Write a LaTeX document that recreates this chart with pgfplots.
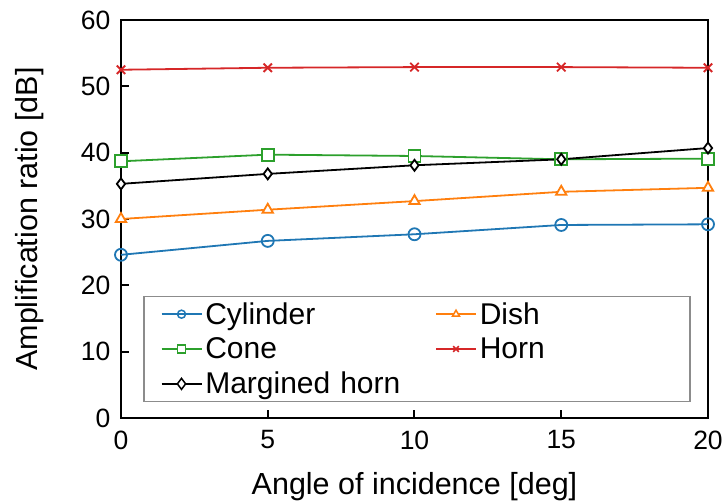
\documentclass[border=0pt]{standalone}
\usepackage{fontspec}
\setmainfont{Liberation Sans}
\usepackage{pgfplots}
\pgfplotsset{compat=1.18}
\definecolor{cblue}{HTML}{1F77B4}
\definecolor{corange}{HTML}{FF7F0E}
\definecolor{cgreen}{HTML}{2CA02C}
\definecolor{cred}{HTML}{D62728}
\definecolor{lgray}{HTML}{8C8C8C}
\begin{document}
\begin{tikzpicture}
\begin{axis}[
  at={(0pt,0pt)}, anchor=south west,
  scale only axis, width=587pt, height=398pt,
  xmin=0, xmax=20, ymin=0, ymax=60,
  xtick={0,5,10,15,20}, ytick={0,10,20,30,40,50,60},
  tick align=inside, xtick pos=bottom, ytick pos=left,
  major tick length=8pt,
  axis line style={line width=2pt},
  every tick/.style={black, line width=2pt},
  /pgf/number format/assume math mode=true,
  tick label style={font=\fontsize{26.5}{30}\selectfont},
  xticklabel style={yshift=-9pt},
  yticklabel style={xshift=-7pt},
  label style={font=\fontsize{30.5}{34}\selectfont},
  xlabel={Angle of incidence [deg]},
  ylabel={Amplification ratio [dB]},
  xlabel style={at={(axis description cs:0.5,-0.173)}, anchor=center},
  ylabel style={at={(axis description cs:-0.155,0.5)}, anchor=center},
  legend columns=2,
  legend style={at={(axis description cs:0.0375,0.307)}, anchor=north west,
    draw=lgray, line width=1.5pt, inner xsep=17pt, inner ysep=3pt,
    font=\fontsize{30}{34}\selectfont, row sep=6pt,
    nodes={anchor=west, text width=190pt, inner sep=3pt},
    /tikz/every even column/.append style={column sep=37pt}},
  legend cell align=left,
  legend image code/.code={\draw[mark repeat=2,mark phase=2,#1,mark size=4pt,line width=1.5pt] plot coordinates {(0pt,0pt) (20pt,0pt) (40pt,0pt)};},
  every axis plot/.append style={line width=1.8pt, mark size=6pt},
]
\addplot[cblue, mark=o, mark options={fill=white}] coordinates {(0,24.6) (5,26.7) (10,27.7) (15,29.1) (20,29.2)};
\addlegendentry{Cylinder}
\addplot[corange, mark=triangle*, mark options={fill=white}] coordinates {(0,30.0) (5,31.4) (10,32.7) (15,34.1) (20,34.7)};
\addlegendentry{Dish}
\addplot[cgreen, mark=square*, mark options={fill=white}] coordinates {(0,38.7) (5,39.7) (10,39.5) (15,39.0) (20,39.1)};
\addlegendentry{Cone}
\addplot[cred, mark=x] coordinates {(0,52.5) (5,52.8) (10,52.9) (15,52.9) (20,52.8)};
\addlegendentry{Horn}
\addplot[black, mark=diamond*, mark options={fill=white, mark size=5.5pt}] coordinates {(0,35.3) (5,36.8) (10,38.1) (15,39.0) (20,40.7)};
\addlegendentry{\mbox{Margined horn}}
\end{axis}
\pgfresetboundingbox
\useasboundingbox (-121pt,-86pt) rectangle (603pt,418pt);
\end{tikzpicture}
\end{document}
